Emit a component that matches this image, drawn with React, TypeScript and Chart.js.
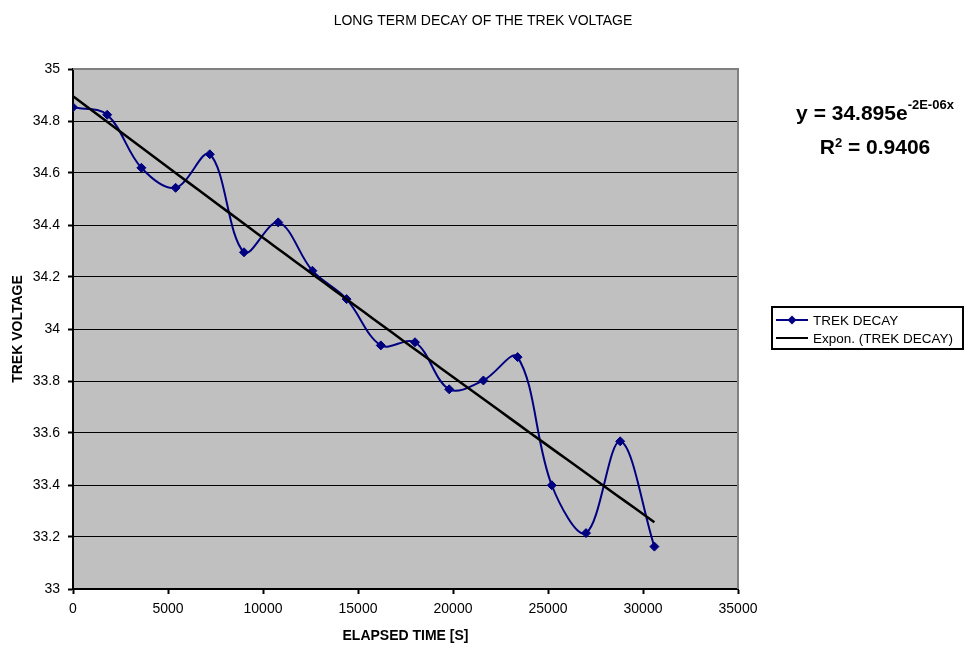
import React, { useEffect, useRef } from 'react';
import { Chart, registerables } from 'chart.js';

Chart.register(...registerables);

// Measurement times (seconds) and TREK voltage readings
const ELAPSED_S = [
  0, 1800, 3600, 5400, 7200, 9000, 10800, 12600, 14400, 16200, 18000, 19800,
  21600, 23400, 25200, 27000, 28800, 30600,
];
const TREK_V = [
  34.853, 34.824, 34.62, 34.543, 34.672, 34.295, 34.41, 34.224, 34.115, 33.937,
  33.949, 33.768, 33.802, 33.892, 33.399, 33.215, 33.568, 33.163,
];

const X_TICKS = [0, 5000, 10000, 15000, 20000, 25000, 30000, 35000];
const Y_TICKS = [33, 33.2, 33.4, 33.6, 33.8, 34, 34.2, 34.4, 34.6, 34.8, 35];

const TITLE = 'LONG TERM DECAY OF THE TREK VOLTAGE';
const X_TITLE = 'ELAPSED TIME [S]';
const Y_TITLE = 'TREK VOLTAGE';
const SERIES_LABEL = 'TREK DECAY';
const TREND_LABEL = 'Expon. (TREK DECAY)';

// Exponential trendline y = A·e^(−k·x); A as printed on the chart
const TREND_A = 34.895;
const TREND_EXP_TEXT = '-2E-06x';
const R2_TEXT = '0.9406';

const FONT = '"Liberation Sans", Arial, Helvetica, sans-serif';
const NAVY = '#000080';

// least-squares fit of ln(y/A) = -k·x with A fixed
function fitRate(xs: number[], ys: number[], a: number): number {
  let num = 0;
  let den = 0;
  xs.forEach((x, i) => {
    num += x * Math.log(ys[i] / a);
    den += x * x;
  });
  return -num / den;
}

function trendPoints() {
  const k = fitRate(ELAPSED_S, TREK_V, TREND_A);
  const xMin = ELAPSED_S[0];
  const xMax = ELAPSED_S[ELAPSED_S.length - 1];
  const pts: { x: number; y: number }[] = [];
  const n = 60;
  for (let i = 0; i <= n; i++) {
    const x = xMin + ((xMax - xMin) * i) / n;
    pts.push({ x, y: TREND_A * Math.exp(-k * x) });
  }
  return pts;
}

function drawDiamond(ctx: CanvasRenderingContext2D, x: number, y: number, r: number, color: string) {
  ctx.beginPath();
  ctx.moveTo(x, y - r);
  ctx.lineTo(x + r, y);
  ctx.lineTo(x, y + r);
  ctx.lineTo(x - r, y);
  ctx.closePath();
  ctx.fillStyle = color;
  ctx.fill();
}

const decorPlugin = {
  id: 'decor',
  beforeDraw(chart: any) {
    const { ctx, chartArea: a } = chart;
    ctx.save();
    ctx.fillStyle = '#ffffff';
    ctx.fillRect(0, 0, chart.width, chart.height);
    ctx.fillStyle = '#C0C0C0';
    ctx.fillRect(a.left, a.top, a.right - a.left, a.bottom - a.top);
    ctx.restore();
  },
  beforeDatasetsDraw(chart: any) {
    const { ctx, chartArea: a } = chart;
    ctx.save();
    ctx.strokeStyle = '#808080';
    ctx.lineWidth = 2;
    ctx.beginPath();
    ctx.moveTo(a.left, a.top);
    ctx.lineTo(a.right, a.top);
    ctx.lineTo(a.right, a.bottom);
    ctx.stroke();
    ctx.restore();
  },
  afterDraw(chart: any) {
    const { ctx } = chart;
    ctx.save();
    ctx.fillStyle = '#000';

    // title
    ctx.font = `14px ${FONT}`;
    ctx.textAlign = 'center';
    ctx.textBaseline = 'middle';
    ctx.fillText(TITLE, chart.width / 2, 21);

    // trendline equation and R²
    const cx = 875;
    ctx.textAlign = 'left';
    ctx.textBaseline = 'alphabetic';
    const mainFont = `bold 21px ${FONT}`;
    const supFont = `bold 13px ${FONT}`;
    const line1 = `y = ${TREND_A}e`;
    ctx.font = mainFont;
    const w1 = ctx.measureText(line1).width;
    ctx.font = supFont;
    const w1s = ctx.measureText(TREND_EXP_TEXT).width;
    let x0 = cx - (w1 + w1s) / 2;
    ctx.font = mainFont;
    ctx.fillText(line1, x0, 120);
    ctx.font = supFont;
    ctx.fillText(TREND_EXP_TEXT, x0 + w1, 109);

    ctx.font = mainFont;
    const wR = ctx.measureText('R').width;
    const wRest = ctx.measureText(` = ${R2_TEXT}`).width;
    ctx.font = supFont;
    const w2 = ctx.measureText('2').width;
    x0 = cx - (wR + w2 + wRest) / 2;
    ctx.font = mainFont;
    ctx.fillText('R', x0, 154);
    ctx.font = supFont;
    ctx.fillText('2', x0 + wR, 147);
    ctx.font = mainFont;
    ctx.fillText(` = ${R2_TEXT}`, x0 + wR + w2, 154);

    // legend box
    const lx = 772;
    const ly = 307;
    const lw = 191;
    const lh = 42;
    ctx.strokeStyle = '#000';
    ctx.lineWidth = 2;
    ctx.strokeRect(lx, ly, lw, lh);

    const rows = [
      { label: SERIES_LABEL, color: NAVY, marker: true, y: 320 },
      { label: TREND_LABEL, color: '#000', marker: false, y: 338 },
    ];
    ctx.font = `13.5px ${FONT}`;
    ctx.textBaseline = 'middle';
    rows.forEach((r) => {
      ctx.strokeStyle = r.color;
      ctx.lineWidth = 2;
      ctx.beginPath();
      ctx.moveTo(776, r.y);
      ctx.lineTo(808, r.y);
      ctx.stroke();
      if (r.marker) drawDiamond(ctx, 792, r.y, 4.5, r.color);
      ctx.fillStyle = '#000';
      ctx.fillText(r.label, 813, r.y + 1);
    });
    ctx.restore();
  },
};

export default function App() {
  const canvasRef = useRef<HTMLCanvasElement | null>(null);

  useEffect(() => {
    if (!canvasRef.current) return;
    Chart.defaults.font.family = FONT;
    Chart.defaults.color = '#000';

    const series = ELAPSED_S.map((x, i) => ({ x, y: TREK_V[i] }));

    const chart = new Chart(canvasRef.current, {
      type: 'line',
      data: {
        datasets: [
          {
            label: TREND_LABEL,
            data: trendPoints(),
            borderColor: '#000',
            borderWidth: 2.5,
            pointRadius: 0,
            tension: 0,
            order: 0,
          },
          {
            label: SERIES_LABEL,
            data: series,
            borderColor: NAVY,
            backgroundColor: NAVY,
            borderWidth: 2,
            pointStyle: 'rectRot',
            pointRadius: 4.5,
            pointBorderWidth: 1,
            pointBackgroundColor: NAVY,
            pointBorderColor: NAVY,
            tension: 0.35,
            order: 1,
          },
        ],
      },
      options: {
        animation: false,
        responsive: true,
        maintainAspectRatio: false,
        layout: { padding: { left: 0, right: 228, top: 69, bottom: 0 } },
        plugins: {
          legend: { display: false },
          title: { display: false },
          tooltip: { enabled: false },
        },
        scales: {
          x: {
            type: 'linear',
            min: 0,
            max: 35000,
            afterBuildTicks: (s: any) => {
              s.ticks = X_TICKS.map((v) => ({ value: v }));
            },
            afterFit: (s: any) => {
              s.height = 56;
            },
            ticks: {
              font: { size: 14 },
              padding: 7,
              maxRotation: 0,
              autoSkip: false,
              callback: (v: any) => String(v),
            },
            grid: {
              drawOnChartArea: false,
              drawTicks: true,
              tickLength: 5,
              tickWidth: 2,
              tickColor: '#000',
            },
            border: { color: '#000', width: 2 },
            title: {
              display: true,
              text: X_TITLE,
              font: { size: 14, weight: 'bold' },
              padding: { top: 0, bottom: 0 },
            },
          },
          y: {
            type: 'linear',
            min: 33,
            max: 35,
            afterBuildTicks: (s: any) => {
              s.ticks = Y_TICKS.map((v) => ({ value: v }));
            },
            afterFit: (s: any) => {
              s.width = 73;
            },
            ticks: {
              font: { size: 14 },
              padding: 8,
              autoSkip: false,
              callback: (v: any) => String(v),
            },
            grid: {
              color: (c: any) => (c.tick && c.tick.value === 35 ? 'rgba(0,0,0,0)' : '#000'),
              lineWidth: 1,
              drawTicks: true,
              tickLength: 5,
              tickWidth: 2,
              tickColor: '#000',
            },
            border: { color: '#000', width: 2 },
            title: {
              display: true,
              text: Y_TITLE,
              font: { size: 14, weight: 'bold' },
              padding: { top: 10, bottom: 0 },
            },
          },
        },
      },
      plugins: [decorPlugin],
    });

    return () => chart.destroy();
  }, []);

  return (
    <div style={{ position: 'fixed', left: 0, top: 0, width: 966, height: 645, background: '#fff' }}>
      <canvas ref={canvasRef} />
    </div>
  );
}
